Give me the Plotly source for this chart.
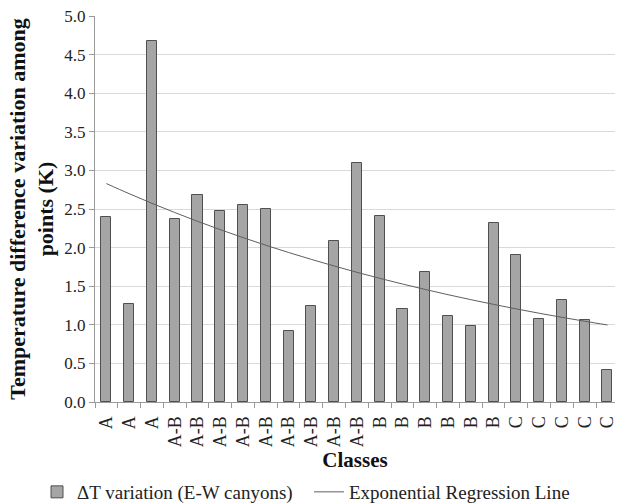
import numpy as np
import plotly.graph_objects as go

# Canyon class of each measurement point and its ΔT variation (K)
classes = ["A", "A", "A",
           "A-B", "A-B", "A-B", "A-B", "A-B", "A-B", "A-B", "A-B", "A-B",
           "B", "B", "B", "B", "B", "B",
           "C", "C", "C", "C", "C"]
delta_t = [2.40, 1.27, 4.67,
           2.37, 2.68, 2.48, 2.55, 2.50, 0.92, 1.25, 2.09, 3.10,
           2.41, 1.20, 1.68, 1.11, 0.98, 2.32,
           1.90, 1.07, 1.32, 1.06, 0.41]
y_ticks = [0.0, 0.5, 1.0, 1.5, 2.0, 2.5, 3.0, 3.5, 4.0, 4.5, 5.0]

pos = np.arange(len(classes))
x_range = [-0.5, 22.33]

# Exponential regression y = a*exp(b*n), fitted on ln(ΔT)
n = pos + 1
b, ln_a = np.polyfit(n, np.log(delta_t), 1)
trend = np.exp(ln_a) * np.exp(b * n)

serif = "Liberation Serif"
W, H = 617, 504

fig = go.Figure()
fig.add_trace(go.Bar(
    x=pos, y=delta_t, width=0.44,
    marker=dict(color="#a5a5a5", line=dict(color="#505050", width=1)),
    name="ΔT variation (E-W canyons)", legend="legend",
))
fig.add_trace(go.Scatter(
    x=pos, y=trend, mode="lines",
    line=dict(color="#5f5f5f", width=1, shape="spline"),
    name="Exponential Regression Line", legend="legend2",
))

legend_style = dict(
    orientation="h", xref="container", yref="container",
    xanchor="left", yanchor="middle", y=12 / H,
    font=dict(family=serif, size=19, color="#222222"),
    itemwidth=30, bgcolor="rgba(0,0,0,0)",
)

fig.update_layout(
    width=W, height=H,
    margin=dict(l=95, r=0, t=16, b=102),
    paper_bgcolor="white", plot_bgcolor="white",
    font=dict(family=serif, color="#222222", size=16),
    bargap=0,
    showlegend=True,
    legend=dict(legend_style, x=37 / W),
    legend2=dict(legend_style, x=309 / W),
    xaxis=dict(
        range=x_range,
        tickmode="array", tickvals=pos, ticktext=classes,
        tickangle=-90, ticks="outside", ticklen=6, tickcolor="rgba(0,0,0,0)",
        ticklabeloverflow="allow",
        tickfont=dict(family=serif, size=18, color="#222222"),
        showline=True, linecolor="#9a9a9a", linewidth=1,
        showgrid=False, zeroline=False,
        title=dict(text="<b>Classes</b>",
                   font=dict(family=serif, size=21, color="#111111"), standoff=6),
    ),
    # tick marks on the category boundaries
    xaxis2=dict(
        overlaying="x", side="bottom", range=x_range,
        tickmode="linear", tick0=0.5, dtick=1,
        ticks="outside", ticklen=5, tickcolor="#9a9a9a",
        showticklabels=False, showgrid=False, zeroline=False, showline=False,
    ),
    yaxis=dict(
        range=[0, 5.0],
        tickmode="array", tickvals=y_ticks, ticktext=[f"{v:.1f}" for v in y_ticks],
        ticks="outside", ticklen=5, tickcolor="#9a9a9a",
        tickfont=dict(family=serif, size=17, color="#222222"),
        showline=True, linecolor="#9a9a9a", linewidth=1,
        showgrid=True, gridcolor="#d9d9d9", gridwidth=1, zeroline=False,
        title=dict(text="<b>Temperature difference variation among<br>points (K)</b>",
                   font=dict(family=serif, size=22, color="#111111"), standoff=4),
    ),
)
# invisible anchor trace so the boundary-tick axis is drawn
fig.add_trace(go.Scatter(x=[x_range[0]], y=[0], xaxis="x2", mode="markers",
                         marker=dict(opacity=0), showlegend=False, hoverinfo="skip"))

fig.write_html("out.html")
